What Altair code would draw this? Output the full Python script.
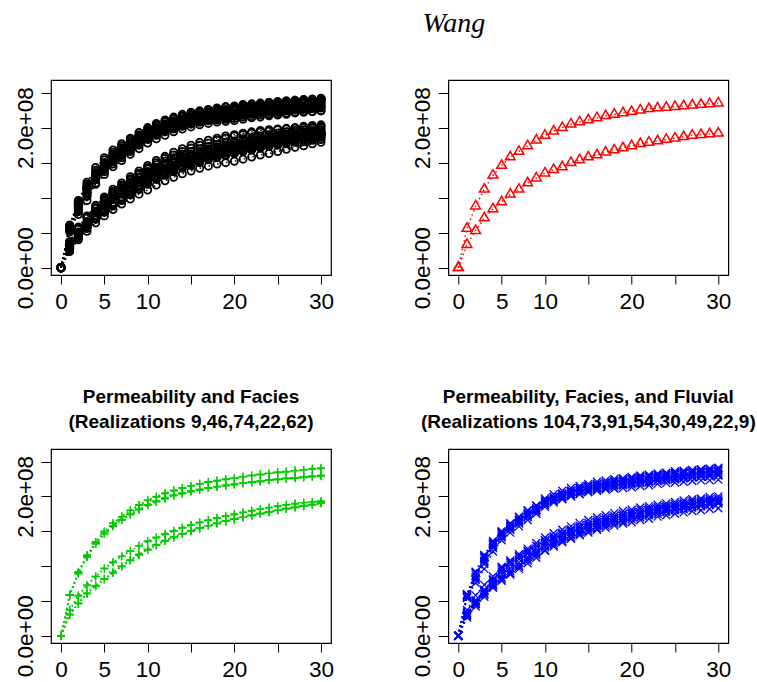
import altair as alt
import pandas as pd

# ---------------- data (values in units of 1e6) ----------------
TIME = [0, 1, 2, 3, 4, 5, 6, 7, 8, 9, 10, 11, 12, 13, 14, 15, 16, 17, 18, 19, 20,
        21, 22, 23, 24, 25, 26, 27, 28, 29, 30]

# upper curve of each realization
UPPER = {
    "9":   [0, 59, 91, 115, 134, 149, 161, 171, 180, 187, 194, 199, 204, 208, 212, 215, 218, 220, 222, 224, 226, 228, 230, 231, 233, 234, 235, 237, 238, 239, 240],
    "46":  [0, 59, 92, 116, 135, 150, 162, 171, 180, 188, 195, 200, 205, 209, 212, 215, 218, 221, 223, 225, 226, 228, 230, 232, 233, 235, 236, 237, 238, 240, 241],
    "22":  [0, 58, 90, 113, 132, 147, 158, 166, 174, 181, 188, 193, 197, 201, 204, 207, 210, 212, 214, 216, 217, 219, 220, 222, 223, 224, 226, 227, 228, 229, 230],
    "62":  [0, 58, 89, 113, 132, 146, 157, 166, 174, 181, 187, 192, 197, 201, 204, 207, 209, 212, 214, 215, 217, 219, 220, 221, 223, 224, 225, 226, 227, 228, 229],
    "74":  [0, 58, 90, 114, 133, 147, 158, 167, 175, 182, 188, 193, 198, 202, 205, 208, 210, 212, 214, 216, 218, 219, 221, 222, 224, 225, 226, 227, 228, 229, 230],
    "104": [0, 54, 76, 96, 121, 137, 148, 157, 166, 175, 185, 191, 196, 200, 203, 206, 208, 210, 211, 212, 213, 215, 216, 218, 219, 220, 221, 222, 223, 223, 224],
    "73":  [0, 56, 80, 103, 126, 141, 152, 161, 170, 178, 188, 194, 199, 203, 207, 210, 212, 214, 216, 218, 219, 221, 222, 224, 225, 226, 227, 228, 229, 230, 231],
    "91":  [0, 57, 84, 108, 130, 145, 156, 165, 174, 181, 191, 197, 202, 206, 210, 213, 216, 218, 220, 222, 224, 225, 227, 228, 230, 231, 232, 233, 234, 235, 236],
    "54":  [0, 60, 92, 116, 136, 150, 161, 170, 179, 186, 197, 203, 208, 212, 215, 218, 221, 223, 225, 226, 228, 230, 231, 233, 234, 236, 237, 238, 239, 240, 241],
    "30":  [0, 55, 82, 106, 128, 143, 154, 163, 172, 180, 190, 195, 200, 204, 208, 211, 214, 216, 218, 220, 221, 223, 224, 226, 227, 228, 229, 230, 231, 232, 233],
    "49":  [0, 58, 87, 111, 132, 147, 158, 167, 176, 183, 193, 199, 204, 208, 212, 215, 217, 219, 221, 223, 225, 227, 228, 230, 231, 232, 234, 235, 236, 237, 238],
    "3":   [0, 51, 81, 102, 119, 133, 144, 153, 162, 170, 178, 184, 189, 194, 198, 201, 204, 206, 208, 209, 210, 212, 214, 215, 217, 218, 219, 221, 222, 223, 224],
    "17":  [0, 61, 96, 122, 143, 157, 168, 177, 185, 193, 200, 206, 211, 215, 219, 222, 224, 226, 228, 230, 231, 233, 234, 235, 236, 237, 238, 239, 240, 241, 242],
    "38":  [0, 53, 85, 108, 126, 140, 151, 160, 168, 176, 183, 189, 194, 198, 202, 205, 208, 210, 212, 214, 216, 218, 219, 221, 222, 223, 224, 225, 226, 227, 228],
    "66":  [0, 60, 94, 119, 139, 154, 165, 174, 183, 190, 198, 204, 209, 213, 217, 220, 223, 225, 227, 229, 230, 232, 233, 234, 236, 237, 238, 239, 240, 240, 241],
    "88":  [0, 56, 88, 112, 131, 146, 157, 167, 176, 184, 191, 197, 202, 206, 210, 213, 216, 218, 220, 222, 224, 226, 227, 229, 230, 231, 232, 233, 234, 235, 236],
}

# lower curve of each realization
LOWER = {
    "9":   [0, 37, 58, 73, 85, 97, 106, 114, 122, 129, 136, 141, 146, 151, 155, 159, 163, 166, 169, 172, 175, 177, 180, 182, 184, 186, 188, 190, 191, 192, 193],
    "46":  [0, 37, 57, 72, 85, 96, 105, 114, 121, 129, 135, 141, 146, 150, 155, 159, 162, 166, 169, 172, 174, 177, 179, 182, 184, 186, 188, 189, 191, 192, 193],
    "22":  [0, 30, 46, 60, 71, 81, 90, 99, 108, 116, 123, 130, 136, 141, 146, 150, 154, 158, 161, 164, 167, 170, 173, 175, 178, 180, 182, 184, 186, 188, 190],
    "62":  [0, 30, 46, 61, 72, 81, 91, 100, 108, 116, 124, 130, 136, 141, 146, 150, 154, 158, 161, 164, 167, 170, 172, 175, 177, 180, 182, 184, 186, 188, 190],
    "74":  [0, 31, 47, 61, 72, 82, 91, 100, 109, 117, 124, 131, 137, 142, 146, 151, 155, 158, 162, 165, 168, 170, 173, 176, 178, 180, 183, 185, 187, 189, 191],
    "104": [0, 26, 42, 56, 69, 79, 88, 96, 104, 112, 122, 128, 134, 139, 144, 148, 152, 155, 158, 161, 163, 166, 168, 171, 173, 175, 177, 179, 180, 182, 183],
    "73":  [0, 28, 45, 59, 73, 84, 93, 101, 110, 118, 127, 133, 139, 144, 149, 153, 157, 161, 164, 167, 170, 173, 175, 178, 180, 182, 184, 186, 187, 189, 190],
    "91":  [0, 31, 49, 64, 78, 92, 102, 110, 118, 125, 133, 139, 145, 150, 155, 159, 163, 166, 169, 172, 175, 177, 180, 182, 184, 186, 188, 190, 191, 193, 194],
    "54":  [0, 33, 51, 66, 81, 99, 108, 117, 125, 133, 141, 147, 152, 157, 162, 166, 170, 173, 176, 179, 181, 184, 186, 188, 190, 192, 194, 196, 197, 199, 200],
    "30":  [0, 29, 47, 62, 75, 88, 97, 105, 113, 121, 130, 136, 141, 146, 151, 155, 159, 163, 166, 169, 172, 175, 177, 180, 182, 184, 186, 187, 189, 190, 192],
    "49":  [0, 32, 50, 65, 80, 95, 105, 113, 121, 129, 137, 143, 148, 153, 158, 162, 166, 169, 172, 175, 178, 181, 183, 185, 187, 189, 191, 193, 194, 196, 197],
    "3":   [0, 23, 40, 52, 64, 74, 83, 91, 98, 105, 111, 118, 124, 129, 134, 138, 142, 145, 148, 150, 152, 155, 158, 161, 163, 166, 169, 172, 174, 177, 179],
    "17":  [0, 35, 57, 74, 89, 101, 112, 121, 130, 138, 146, 153, 159, 165, 170, 175, 179, 182, 185, 188, 190, 192, 194, 196, 197, 198, 199, 200, 202, 203, 204],
    "38":  [0, 25, 44, 58, 70, 80, 89, 97, 105, 112, 119, 126, 132, 137, 142, 146, 150, 154, 157, 160, 163, 166, 169, 171, 174, 176, 178, 180, 182, 184, 186],
    "66":  [0, 34, 55, 71, 86, 99, 109, 118, 127, 135, 143, 150, 156, 161, 166, 171, 175, 178, 182, 185, 188, 190, 192, 194, 195, 197, 198, 199, 200, 201, 202],
    "88":  [0, 27, 45, 59, 72, 83, 92, 100, 108, 115, 121, 127, 133, 138, 143, 147, 151, 155, 158, 161, 165, 168, 171, 173, 176, 178, 180, 182, 184, 185, 187],
}

RED_UPPER = [0, 56, 88, 112, 132, 146, 158, 166, 174, 182, 189, 195, 200, 205, 208, 211, 214, 217, 219, 221, 223, 225, 227, 228, 229, 230, 231, 232, 233, 234, 235]
RED_LOWER = [0, 33, 53, 71, 84, 94, 105, 112, 121, 128, 135, 140, 144, 150, 154, 158, 161, 165, 168, 171, 174, 177, 179, 181, 183, 185, 187, 189, 190, 191, 192]

PANEL1_REALS = ["3", "9", "17", "22", "30", "38", "46", "49", "54", "62", "66", "73", "74", "88", "91", "104"]
PANEL3_REALS = ["9", "46", "74", "22", "62"]
PANEL4_REALS = ["104", "73", "91", "54", "30", "49", "22", "9"]

PANEL3_TITLE = ["Permeability and Facies", "(Realizations 9,46,74,22,62)"]
PANEL4_TITLE = ["Permeability, Facies, and Fluvial", "(Realizations 104,73,91,54,30,49,22,9)"]
MAIN_TITLE = "Wang"

X_TICKS = [0, 5, 10, 15, 20, 25, 30]
X_LABELS = ["0", "5", "10", "", "20", "", "30"]
Y_TICKS = [0, 50, 100, 150, 200, 250]
Y_LABELS = ["0.0e+00", "", "", "", "2.0e+08", ""]


def frame_from(reals):
    rows = []
    for r in reals:
        for band, src in (("up", UPPER), ("lo", LOWER)):
            for t, v in zip(TIME, src[r]):
                rows.append({"t": t, "v": v, "s": f"{r}_{band}"})
    return pd.DataFrame(rows)


def frame_red():
    rows = []
    for band, vals in (("up", RED_UPPER), ("lo", RED_LOWER)):
        for t, v in zip(TIME, vals):
            rows.append({"t": t, "v": v, "s": band})
    return pd.DataFrame(rows)


def label_expr(ticks, labels):
    expr = "''"
    for t, l in zip(ticks, labels):
        expr = f"datum.value == {t} ? '{l}' : (" + expr + ")"
    return expr


FONT = "Liberation Sans"

x_axis = alt.Axis(values=X_TICKS, labelExpr=label_expr(X_TICKS, X_LABELS), title=None,
                  tickSize=9, labelPadding=6, labelFontSize=22.5, labelFont=FONT,
                  labelColor="black", tickColor="black", domain=False, grid=False,
                  labelOverlap=False, labelFlush=False)
y_axis = alt.Axis(values=Y_TICKS, labelExpr=label_expr(Y_TICKS, Y_LABELS), title=None,
                  tickSize=10, labelPadding=9, labelFontSize=22.5, labelFont=FONT,
                  labelAngle=270, labelAlign="center", labelBaseline="alphabetic",
                  labelColor="black", tickColor="black", domain=False, grid=False,
                  labelOverlap=False, labelFlush=False)

X_DOMAIN = [-1.154, 31.154]
Y_DOMAIN = [-10.4, 268]

CROSS = "M-1,0L1,0M0,-1L0,1"
XMARK = "M-1,-1L1,1M1,-1L-1,1"


def panel(df, color, shape, size, h, title=None, yoff=0, sw=1.5):
    x = alt.X("t:Q", scale=alt.Scale(domain=X_DOMAIN, nice=False, zero=False), axis=x_axis)
    y = alt.Y("v:Q", scale=alt.Scale(domain=Y_DOMAIN, nice=False, zero=False), axis=y_axis)
    base = alt.Chart(df)
    lines = base.mark_line(color=color, strokeWidth=1.5, strokeDash=[1.5, 3]).encode(
        x=x, y=y, detail="s:N")
    pts = base.mark_point(shape=shape, size=size, filled=False, color=color,
                          strokeWidth=sw, opacity=1, yOffset=yoff).encode(
        x=x, y=y, detail="s:N")
    ch = alt.layer(lines, pts).properties(width=280, height=h)
    if title:
        ch = ch.properties(title=alt.TitleParams(
            text=title, font=FONT, fontSize=19, fontWeight="bold", lineHeight=25,
            anchor="middle", offset=-2, color="black", baseline="bottom"))
    return ch


p1 = panel(frame_from(PANEL1_REALS), "#000000", "circle", 52, 195, sw=1.8)
p2 = panel(frame_red(), "#FF0000", "triangle-up", 95, 195, yoff=-1.4)
p3 = panel(frame_from(PANEL3_REALS), "#00CD00", CROSS, 64, 194, title=PANEL3_TITLE, sw=1.3)
p4 = panel(frame_from(PANEL4_REALS), "#0000FF", XMARK, 64, 194, title=PANEL4_TITLE, sw=1.3)

chart = alt.concat(p1, p2, p3, p4, columns=2,
                   spacing={"row": 174, "column": 117.3}, bounds="flush").properties(
    title=alt.TitleParams(text=MAIN_TITLE, font="Liberation Serif", fontStyle="italic",
                          fontWeight="normal", fontSize=28, anchor="start", dx=409,
                          offset=19, baseline="alphabetic", color="black"),
    padding={"left": 13, "top": 10, "right": 0, "bottom": 0},
    background="white",
).configure_view(stroke="black", strokeWidth=1.2)

chart.save("out.html", embed_options={"renderer": "svg", "actions": False})
